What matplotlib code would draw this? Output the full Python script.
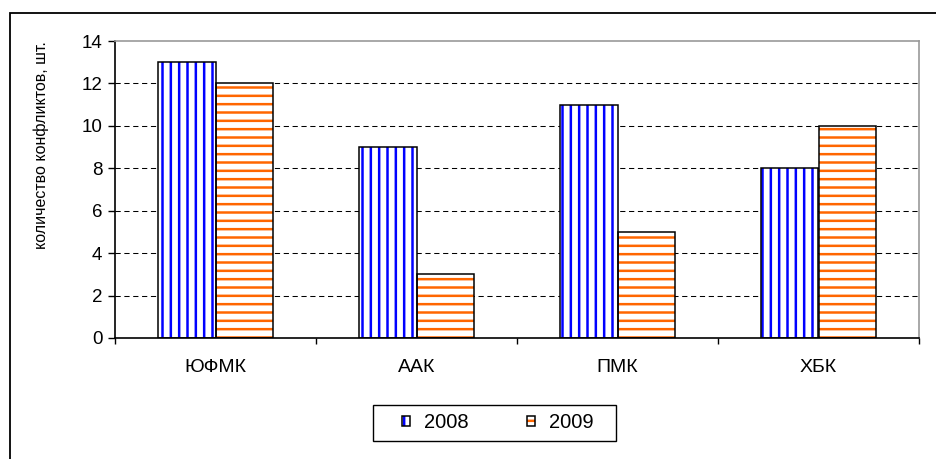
import matplotlib
matplotlib.use('Agg')
import matplotlib.pyplot as plt
import numpy as np
from matplotlib.patches import Rectangle

plt.rcParams['font.family'] = ['Liberation Sans', 'DejaVu Sans']
plt.rcParams['hatch.linewidth'] = 1.8

categories = ['ЮФМК', 'ААК', 'ПМК', 'ХБК']
years = ['2008', '2009']
vals_2008 = [13, 9, 11, 8]
vals_2009 = [12, 3, 5, 10]
yticks = [0, 2, 4, 6, 8, 10, 12, 14]

fig = plt.figure(figsize=(9.36, 4.59), dpi=100)
ax = fig.add_axes([115 / 936, 1 - 338 / 459, 804 / 936, 297 / 459])

x = np.arange(len(categories))
w = 0.288

# hatch layer + black outline layer (hatch colour follows edgecolor)
h1 = ax.bar(x - w / 2, vals_2008, w, color='white', edgecolor='#0000FF',
            hatch='||', linewidth=0, zorder=2)
e1 = ax.bar(x - w / 2, vals_2008, w, fill=False, edgecolor='black',
            linewidth=1.1, zorder=3)
h2 = ax.bar(x + w / 2, vals_2009, w, color='white', edgecolor='#FF6600',
            hatch='--', linewidth=0, zorder=2)
e2 = ax.bar(x + w / 2, vals_2009, w, fill=False, edgecolor='black',
            linewidth=1.1, zorder=3)

ax.set_xlim(-0.5, len(categories) - 0.5)
ax.set_ylim(0, 14)
ax.set_yticks(yticks)
ax.set_yticklabels([str(t) for t in yticks], fontsize=13.5)
ax.set_xticks(x)
ax.set_xticklabels(categories, fontsize=14)
ax.set_xticks(np.arange(-0.5, len(categories)), minor=True)
ax.tick_params(axis='x', which='major', length=0, pad=15)
ax.tick_params(axis='x', which='minor', length=4.5, width=1, direction='out')
ax.tick_params(axis='y', length=5, width=1, direction='out', pad=4)

for t in yticks[1:-1]:
    ax.axhline(t, color='black', linewidth=0.75, linestyle=(0, (5, 3.5)), zorder=1)

ax.spines['left'].set_color('black')
ax.spines['bottom'].set_color('black')
ax.spines['top'].set_color('#999999')
ax.spines['right'].set_color('#999999')
for s in ax.spines.values():
    s.set_linewidth(1.2)

fig.text(41 / 936, 1 - 145 / 459, 'количество конфликтов, шт.', rotation=90,
         ha='center', va='center', fontsize=11.5)

# legend entries without frame, box drawn separately (wider margins like Excel)
leg = fig.legend([(h1[0], e1[0]), (h2[0], e2[0])], years,
                 loc='center', bbox_to_anchor=(498 / 936, 1 - 423 / 459),
                 ncol=2, fontsize=14.5, frameon=False,
                 handlelength=0.4, handleheight=0.4, handletextpad=0.7,
                 columnspacing=2.9, borderpad=0, borderaxespad=0)
fig.add_artist(Rectangle((373 / 936, 1 - 441 / 459), 243 / 936, 36 / 459,
                         transform=fig.transFigure, fill=False,
                         edgecolor='black', linewidth=1.0))

# outer chart frame
fig.add_artist(Rectangle((10 / 936, -0.1), 1.0, 1 - 13 / 459 + 0.1,
                         transform=fig.transFigure, fill=False,
                         edgecolor='black', linewidth=1.3))

fig.savefig('out.png', dpi=100)
